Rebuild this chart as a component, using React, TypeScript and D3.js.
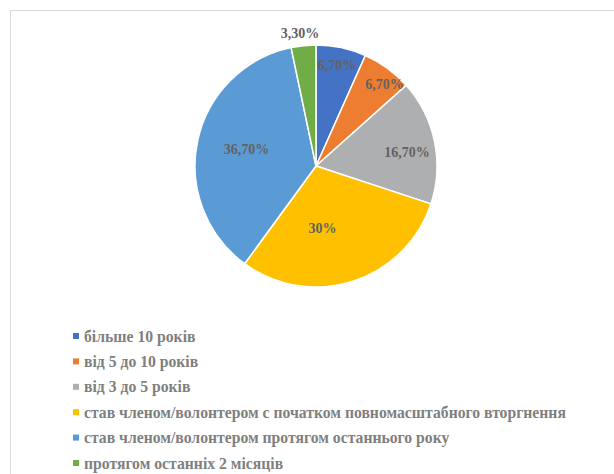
import React from "react";
import * as d3 from "d3";

const categories = [
  "більше 10 років",
  "від 5 до 10 років",
  "від 3 до 5 років",
  "став членом/волонтером с початком повномасштабного вторгнення",
  "став членом/волонтером протягом останнього року",
  "протягом останніх 2 місяців",
];
const values = [6.7, 6.7, 16.7, 30, 36.7, 3.3];
const valueLabels = ["6,70%", "6,70%", "16,70%", "30%", "36,70%", "3,30%"];
const colors = ["#4472C4", "#ED7D31", "#AEAFB1", "#FFC000", "#5B9BD5", "#70AD47"];
// label placement: fraction along slice angle, fraction of radius
const labelAngleFrac = [0.49, 0.66, 0.56, 0.61, 0.51, 0.42];
const labelRadiusFrac = [0.85, 0.88, 0.76, 0.52, 0.59, 1.1];

const W = 614;
const H = 474;
const cx = 316;
const cy = 166;
const R = 121;

export default function App() {
  const pie = d3
    .pie<number>()
    .sort(null)
    .startAngle(0)
    .endAngle(2 * Math.PI)
    .value((d) => d);
  const arcs = pie(values);
  const arcGen = d3.arc<d3.PieArcDatum<number>>().innerRadius(0).outerRadius(R);

  const legendY = d3.scaleLinear().domain([0, categories.length - 1]).range([336, 463]);

  return (
    <svg
      width={W}
      height={H}
      style={{ position: "fixed", left: 0, top: 0, background: "#fff" }}
      fontFamily="'Liberation Serif', 'Times New Roman', serif"
    >
      <rect x={10.5} y={10.5} width={W} height={H} fill="#fff" stroke="#d9d9d9" strokeWidth={1} />
      <g transform={`translate(${cx},${cy})`}>
        {arcs.map((a, i) => (
          <path key={i} d={arcGen(a) || ""} fill={colors[i]} stroke="#fff" strokeWidth={1.5} />
        ))}
        {arcs.map((a, i) => {
          const ang = a.startAngle + (a.endAngle - a.startAngle) * labelAngleFrac[i];
          const r = R * labelRadiusFrac[i];
          const x = r * Math.sin(ang);
          const y = -r * Math.cos(ang);
          return (
            <text
              key={i}
              x={x}
              y={y}
              textAnchor="middle"
              dominantBaseline="central"
              fontWeight="bold"
              fontSize={14}
              fill="#626262"
            >
              {valueLabels[i]}
            </text>
          );
        })}
      </g>
      <g>
        {categories.map((c, i) => (
          <g key={i} transform={`translate(0,${legendY(i)})`}>
            <rect x={73} y={-3} width={6} height={6} fill={colors[i]} />
            <text x={84} y={0} dominantBaseline="central" fontWeight="bold" fontSize={15.7} fill="#7f7f7f">
              {c}
            </text>
          </g>
        ))}
      </g>
    </svg>
  );
}
